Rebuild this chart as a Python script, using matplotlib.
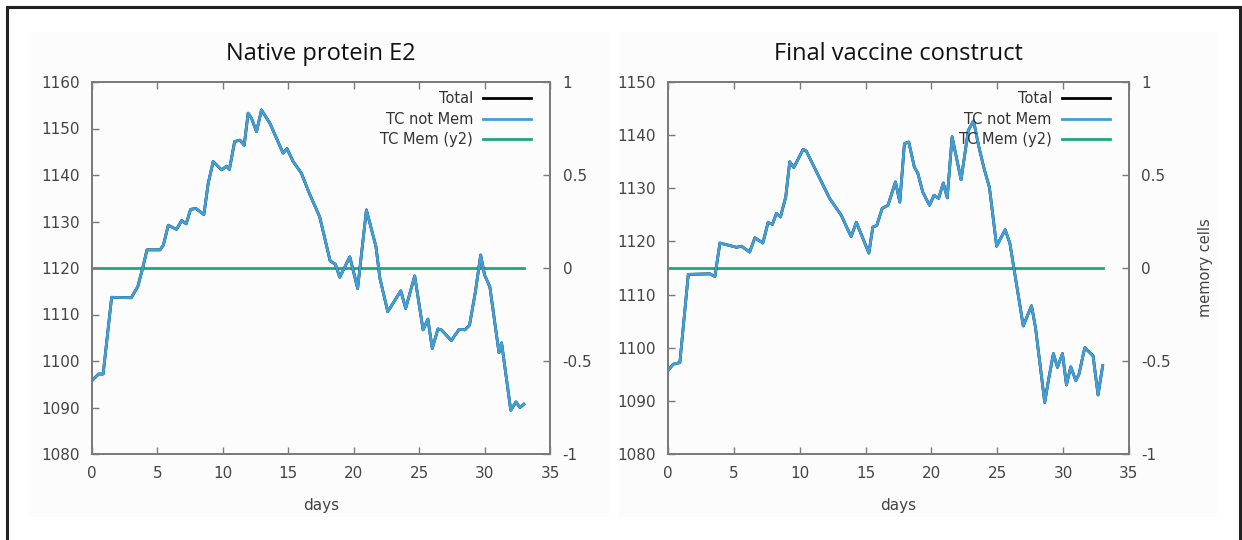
import numpy as np
import matplotlib
matplotlib.use('Agg')
from matplotlib import pyplot as plt
from matplotlib.patches import Rectangle

# native protein E2
days_e2 = [0, 0.5, 0.85, 1.5, 3.0, 3.5, 3.9, 4.2, 5.2, 5.45, 5.83, 6.46, 6.85, 7.2, 7.53,
           7.94, 8.55, 8.88, 9.26, 9.9, 10.28, 10.5, 10.9, 11.3, 11.63, 11.93, 12.19, 12.57,
           12.95, 13.6, 14.6, 14.9, 15.37, 16.0, 16.6, 17.4, 18.2, 18.6, 18.93, 19.7, 20.3,
           20.97, 21.7, 22.0, 22.6, 23.6, 23.97, 24.66, 25.3, 25.67, 26.0, 26.44, 26.7, 27.46,
           28.05, 28.5, 28.85, 29.3, 29.7, 30.0, 30.4, 31.1, 31.3, 32.0, 32.4, 32.7, 33.0]
tc_e2 = [1095.8, 1097.2, 1097.2, 1113.7, 1113.6, 1116.0, 1120.3, 1123.9, 1123.9, 1124.9,
         1129.2, 1128.3, 1130.2, 1129.5, 1132.6, 1132.8, 1131.5, 1138.2, 1142.9, 1141.1,
         1141.9, 1141.2, 1147.2, 1147.5, 1146.4, 1153.3, 1152.2, 1149.3, 1154.0, 1151.1,
         1144.7, 1145.7, 1142.9, 1140.4, 1136.1, 1131.0, 1121.5, 1120.8, 1118.0, 1122.4,
         1115.6, 1132.5, 1124.6, 1117.8, 1110.6, 1115.1, 1111.3, 1118.3, 1106.7, 1109.0,
         1102.7, 1106.9, 1106.7, 1104.4, 1106.8, 1106.7, 1107.7, 1114.9, 1122.8, 1118.5,
         1116.0, 1101.8, 1103.9, 1089.4, 1091.2, 1090.0, 1090.7]

# final vaccine construct
days_vc = [0, 0.4, 0.9, 1.54, 3.18, 3.56, 3.94, 5.2, 5.58, 6.2, 6.6, 7.2, 7.6, 7.93, 8.23,
           8.54, 8.94, 9.24, 9.55, 10.25, 10.5, 12.27, 13.16, 13.9, 14.3, 15.25, 15.55, 15.85,
           16.26, 16.7, 17.27, 17.6, 17.95, 18.28, 18.7, 18.96, 19.34, 19.85, 20.2, 20.55,
           20.9, 21.2, 21.57, 22.25, 22.8, 23.2, 23.6, 24.0, 24.4, 24.95, 25.6, 25.96, 26.97,
           27.6, 27.9, 28.6, 28.9, 29.26, 29.57, 29.95, 30.25, 30.58, 30.96, 31.2, 31.64,
           32.27, 32.65, 33.0]
tc_vc = [1095.7, 1096.9, 1097.2, 1113.8, 1113.9, 1113.4, 1119.7, 1118.9, 1119.1, 1118.0,
         1120.7, 1119.7, 1123.6, 1123.2, 1125.3, 1124.6, 1128.4, 1135.0, 1133.9, 1137.3,
         1137.0, 1128.1, 1124.9, 1120.9, 1123.6, 1117.8, 1122.7, 1123.0, 1126.2, 1126.8,
         1131.2, 1127.4, 1138.4, 1138.7, 1134.0, 1132.9, 1129.3, 1126.8, 1128.7, 1128.1,
         1131.0, 1128.2, 1139.7, 1131.6, 1140.9, 1142.7, 1137.8, 1133.7, 1130.2, 1119.1,
         1122.2, 1119.6, 1104.1, 1107.9, 1103.8, 1089.7, 1094.1, 1098.9, 1096.3, 1098.9,
         1093.0, 1096.4, 1093.8, 1095.0, 1100.0, 1098.5, 1091.1, 1096.6]

mem_days = [0, 33]
mem_vals = [0, 0]

titles = ['Native protein E2', 'Final vaccine construct']
ylims = [(1080, 1160), (1080, 1150)]
y2ticks = [-1, -0.5, 0, 0.5, 1]
y2labels = ['-1', '-0.5', '0', '0.5', '1']

BLUE = '#3f9fd8'
GREEN = '#1fa777'
GREY = '#444444'
SPINE = '#7a7a7a'

fig = plt.figure(figsize=(12.42, 5.4), dpi=100)
fig.patch.set_facecolor('white')

# faint screenshot panels + outer frame
for x0, x1 in [(28, 609), (619, 1217)]:
    fig.patches.append(Rectangle((x0 / 1242, 1 - 517 / 540), (x1 - x0) / 1242, 485 / 540,
                                 transform=fig.transFigure, facecolor='#fcfcfc',
                                 edgecolor='none', zorder=-5))
fig.patches.append(Rectangle((7 / 1242, -0.05), 1233 / 1242, 1.05 - 7 / 540,
                             transform=fig.transFigure, fill=False, edgecolor='#222222',
                             linewidth=2.2, zorder=10))

boxes = [(92, 550), (668, 1129)]
datasets = [(days_e2, tc_e2), (days_vc, tc_vc)]

for i, ((l, r), (dd, vv)) in enumerate(zip(boxes, datasets)):
    ax = fig.add_axes([l / 1242, 1 - 454 / 540, (r - l) / 1242, (454 - 82) / 540])
    ax2 = ax.twinx()

    ax.plot(dd, vv, color='black', lw=2, label='Total')
    ax.plot(dd, vv, color=BLUE, lw=2, label='TC not Mem')
    ax2.plot(mem_days, mem_vals, color=GREEN, lw=2, label='TC Mem (y2)')
    ax2.set_zorder(ax.get_zorder() - 1)
    ax.patch.set_visible(False)
    ax2.patch.set_facecolor('white')

    ax.set_xlim(0, 35)
    ax.set_ylim(*ylims[i])
    ax.set_xticks(np.arange(0, 36, 5))
    ax.set_yticks(np.arange(ylims[i][0], ylims[i][1] + 1, 10))
    ax2.set_ylim(-1, 1)
    ax2.set_yticks(y2ticks)
    ax2.set_yticklabels(y2labels)

    ax.tick_params(axis='x', direction='in', top=True, length=5, width=1, color=SPINE,
                   labelsize=11, labelcolor=GREY, pad=9)
    ax.tick_params(axis='y', direction='in', right=False, length=5, width=1, color=SPINE,
                   labelsize=11, labelcolor=GREY, pad=9)
    ax2.tick_params(axis='y', direction='in', length=5, width=1, color=SPINE,
                    labelsize=11, labelcolor=GREY, pad=9)
    for a in (ax, ax2):
        for s in a.spines.values():
            s.set_color(SPINE)
            s.set_linewidth(1.3)

    ax.set_xlabel('days', fontsize=11, color=GREY, labelpad=12)
    ax.set_title(titles[i], fontsize=17, family='Open Sans', color='#111111', pad=16)
    if i == 1:
        ax2.set_ylabel('memory cells', fontsize=10.5, color=GREY, labelpad=19)

    h1, l1 = ax.get_legend_handles_labels()
    h2, l2 = ax2.get_legend_handles_labels()
    leg = ax.legend(h1 + h2, l1 + l2, loc='upper right', frameon=False, markerfirst=False,
                    fontsize=10.5, handlelength=3.3, handletextpad=0.7, labelspacing=0.38,
                    borderaxespad=0.1, bbox_to_anchor=(0.975, 0.995))
    for t in leg.get_texts():
        t.set_color('#333333')
    leg.set_zorder(20)

fig.savefig('out.png', dpi=100)
